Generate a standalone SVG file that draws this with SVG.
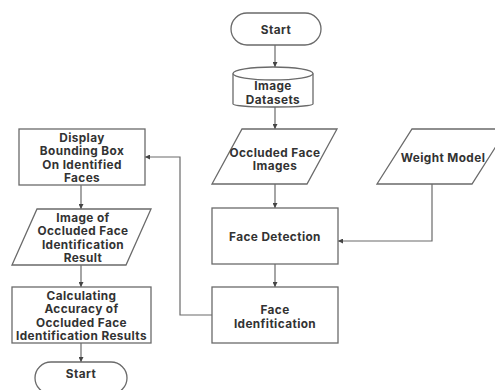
<svg xmlns="http://www.w3.org/2000/svg" width="495" height="390" viewBox="0 0 495 390">
<defs>
<marker id="ah" viewBox="0 0 6 6" refX="6" refY="3" markerWidth="5" markerHeight="5" orient="auto" markerUnits="userSpaceOnUse">
<path d="M0,0 L6,3 L0,6 z" fill="#444"/>
</marker>
<style>
.s{fill:#fff;stroke:#6a6a6a;stroke-width:1.3}
.t{font-family:Inter,"Liberation Sans",sans-serif;font-weight:700;font-size:11.8px;letter-spacing:0.4px;fill:#333;text-anchor:middle}
.c{fill:none;stroke:#6a6a6a;stroke-width:1.2;marker-end:url(#ah)}
</style>
</defs>
<rect width="495" height="390" fill="#fff"/>
<g id="connectors">
<path class="c" d="M275,45 V67"/>
<path class="c" d="M275,106 V129"/>
<path class="c" d="M275,184 V208"/>
<path class="c" d="M275,264 V287"/>
<path class="c" d="M432,184 V241 H338"/>
<path class="c" d="M212,315 H180 V157 H145"/>
<path class="c" d="M81,185 V209"/>
<path class="c" d="M81,265 V287"/>
<path class="c" d="M81,343 V362"/>
</g>
<g id="start">
<rect class="s" x="231" y="13" width="90" height="32" rx="16"/>
<text class="t" x="276" y="33.5">Start</text>
</g>
<g id="datasets">
<path class="s" d="M233,73.5 V104 A40,3 0 0 0 313,104 V73.5"/>
<ellipse class="s" cx="273" cy="73.5" rx="40" ry="6.5"/>
<text class="t" x="273" y="89.5">Image</text>
<text class="t" x="273" y="103.5">Datasets</text>
</g>
<g id="occluded">
<polygon class="s" points="242,129 337,129 307,184 212,184"/>
<text class="t" x="275" y="156.5">Occluded Face</text>
<text class="t" x="275" y="170">Images</text>
</g>
<g id="weight">
<polygon class="s" points="412,129 507,129 472,184 377,184"/>
<text class="t" x="443" y="162">Weight Model</text>
</g>
<g id="detection">
<rect class="s" x="212" y="208" width="126" height="56"/>
<text class="t" x="275" y="241">Face Detection</text>
</g>
<g id="identification">
<rect class="s" x="212" y="287" width="126" height="56"/>
<text class="t" x="275" y="313.5">Face</text>
<text class="t" x="275" y="327.5">Idenfitication</text>
</g>
<g id="display">
<rect class="s" x="19" y="129" width="126" height="56"/>
<text class="t" x="82" y="141.5">Display</text>
<text class="t" x="82" y="155">Bounding Box</text>
<text class="t" x="82" y="168.5">On Identified</text>
<text class="t" x="82" y="182">Faces</text>
</g>
<g id="result">
<polygon class="s" points="37,209 151,209 126,265 12,265"/>
<text class="t" x="83" y="221.5">Image of</text>
<text class="t" x="83" y="235">Occluded Face</text>
<text class="t" x="83" y="248.5">Identification</text>
<text class="t" x="83" y="262">Result</text>
</g>
<g id="accuracy">
<rect class="s" x="12" y="287" width="139" height="56"/>
<text class="t" x="81.5" y="299.5">Calculating</text>
<text class="t" x="81.5" y="313">Accuracy of</text>
<text class="t" x="81.5" y="326.5">Occluded Face</text>
<text class="t" x="81.5" y="340">Identification Results</text>
</g>
<g id="end">
<rect class="s" x="35" y="362" width="92" height="32" rx="16"/>
<text class="t" x="81" y="378">Start</text>
</g>
</svg>
